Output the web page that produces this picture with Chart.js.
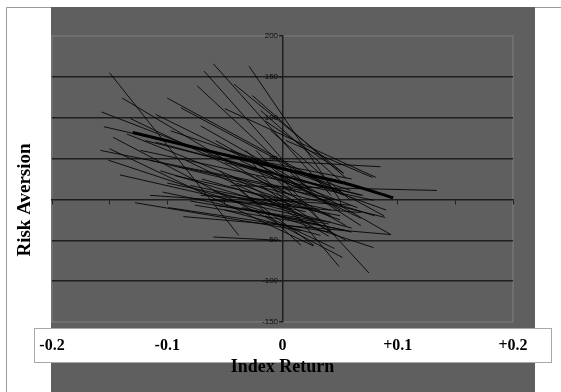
<!DOCTYPE html>
<html>
<head>
<meta charset="utf-8">
<script src="https://cdn.jsdelivr.net/npm/chart.js@4"></script>
<style>
  html, body { margin: 0; padding: 0; background: #fff; }
  #wrap { width: 561px; height: 392px; position: relative; }
</style>
</head>
<body>
<div id="wrap"><canvas id="riskChart"></canvas></div>
<script>
// Each thin line runs from (startX, startY) to (endX, endY)
const startX = [-0.150, -0.139, -0.157, -0.155, -0.135, -0.147, -0.150, -0.151, -0.141, -0.104,
                -0.128, -0.099, -0.086, -0.060, -0.100, -0.068, -0.060, -0.029, -0.042, -0.074,
                -0.088, -0.050, -0.071, -0.017, -0.045, -0.115, -0.123, -0.110, -0.132, -0.119,
                -0.158, -0.093, -0.080, -0.071, -0.063, -0.058, -0.050, -0.037, -0.045, -0.032,
                -0.010, -0.019, -0.026, -0.015, 0.003, -0.045, -0.106, -0.084, -0.097, -0.058,
                -0.037, -0.023, -0.019, -0.054, -0.115, -0.076, -0.006, 0.007, -0.023, -0.028,
                -0.080, -0.060, -0.040, -0.070, -0.030, -0.090, -0.050, -0.020, -0.065, -0.100,
                -0.035, 0.000, -0.110, -0.085, -0.015];
const startY = [155, 124, 107, 89, 80, 76, 62, 48, 30, 9,
                -4, -10, -21, -46, 124, 157, 166, 163, 141, 139,
                112, 111, 90, 48, 17, 48, 60, 104, 99, 72,
                60, 29, 17, 5, -1, -7, -13, 11, 29, 60,
                84, 109, 127, 96, 72, 60, 35, 48, 84, 72,
                48, 29, 17, 35, 5, -7, 35, 29, 60, 48,
                -2, 10, 20, 25, 40, 40, 45, 5, 55, 20,
                -10, 15, 70, 65, -20];
const endX = [-0.038, 0.016, 0.042, 0.055, 0.042, 0.052, 0.027, 0.079, 0.033, 0.055,
              0.016, 0.042, 0.094, -0.002, 0.088, 0.024, 0.042, 0.050, 0.053, 0.033,
              0.053, 0.081, 0.094, 0.085, 0.134, 0.089, 0.079, 0.024, 0.007, 0.068,
              0.016, 0.042, 0.050, 0.059, 0.068, 0.042, 0.033, 0.027, 0.055, 0.042,
              0.059, 0.050, 0.055, 0.053, 0.078, 0.059, 0.007, 0.016, 0.042, 0.050,
              0.068, 0.055, 0.046, 0.016, 0.007, 0.033, 0.068, 0.090, 0.075, 0.049,
              0.040, 0.060, 0.050, 0.030, 0.065, 0.045, 0.070, 0.040, 0.035, 0.020,
              0.060, 0.080, 0.050, 0.060, 0.045];
const endY = [-44, -7, -1, 21, -20, -71, -57, -59, -26, -38,
              -38, -40, -43, -50, -20, 11, 5, -1, 32, -1,
              5, 27, -43, 40, 11, -22, -1, 11, 5, 5,
              11, -13, -20, -7, -16, -28, -44, -56, -50, -38,
              -1, 23, 26, 32, 27, 11, -13, -20, 17, -13,
              -23, -32, -44, -56, -7, -32, -32, -13, -90, -82,
              -30, -35, -25, -15, -10, 0, 5, -45, 15, -15,
              -40, -20, 10, 25, -60];

// Heavy average curve
const meanX = [-0.130, -0.063, 0.007, 0.059, 0.096];
const meanY = [82, 59, 35, 18, 2];

// Axis ticks
const xTickValues = [-0.2, -0.1, 0, 0.1, 0.2];
const xTickLabels = ['-0.2', '-0.1', '0', '+0.1', '+0.2'];
const xMinorTicks = [-0.2, -0.15, -0.1, -0.05, 0, 0.05, 0.1, 0.15, 0.2];

const serif = '"Liberation Serif", "Times New Roman", serif';

// Hintergrund: Rahmen, grauer Kasten, weisser Streifen fuer die x-Beschriftung
const backdrop = {
  id: 'backdrop',
  beforeDraw(chart) {
    const c = chart.ctx;
    const a = chart.chartArea;
    c.save();
    c.fillStyle = '#fff';
    c.fillRect(0, 0, chart.width, chart.height);
    c.strokeStyle = '#9a9a9a';
    c.lineWidth = 1;
    c.beginPath();
    c.moveTo(6.5, chart.height);
    c.lineTo(6.5, 7.5);
    c.lineTo(chart.width, 7.5);
    c.stroke();
    c.fillStyle = '#5f5f5f';
    c.fillRect(51, 7, 484, chart.height - 7);
    c.strokeStyle = '#6f6f6f';
    c.lineWidth = 2;
    c.strokeRect(a.left, a.top, a.right - a.left, a.bottom - a.top);
    c.fillStyle = '#fff';
    c.fillRect(34, 328, 517, 34);
    c.strokeStyle = '#a8a8a8';
    c.lineWidth = 1;
    c.strokeRect(34.5, 328.5, 517, 34);
    c.translate(25, 200);
    c.rotate(-Math.PI / 2);
    c.font = 'bold 19px ' + serif;
    c.fillStyle = '#000';
    c.textAlign = 'center';
    c.textBaseline = 'middle';
    c.fillText('Risk Aversion', 0, 0);
    c.restore();
  }
};

const thinLines = startX.map((x, i) => ({
  data: [{ x: startX[i], y: startY[i] }, { x: endX[i], y: endY[i] }],
  showLine: true,
  borderColor: 'rgba(0, 0, 0, 0.85)',
  borderWidth: 1,
  pointRadius: 0
}));

const meanLine = {
  data: meanX.map((x, i) => ({ x: x, y: meanY[i] })),
  showLine: true,
  borderColor: '#000',
  borderWidth: 3,
  pointRadius: 0,
  tension: 0.3
};

new Chart(document.getElementById('riskChart'), {
  type: 'scatter',
  data: { datasets: thinLines.concat([meanLine]) },
  options: {
    responsive: true,
    maintainAspectRatio: false,
    animation: false,
    layout: { padding: { left: 52, right: 48, top: 36, bottom: 0 } },
    plugins: { legend: { display: false }, tooltip: { enabled: false } },
    scales: {
      x: {
        type: 'linear',
        position: 'bottom',
        min: -0.2,
        max: 0.2,
        afterBuildTicks: s => { s.ticks = xTickValues.map(v => ({ value: v })); },
        afterFit: s => { s.height = 70; },
        grid: { display: false, drawTicks: false },
        border: { display: false },
        ticks: {
          autoSkip: false,
          maxRotation: 0,
          padding: 14,
          color: '#000',
          font: { family: serif, size: 16, weight: 'bold' },
          callback: v => xTickLabels[xTickValues.indexOf(v)]
        },
        title: {
          display: true,
          text: 'Index Return',
          color: '#000',
          font: { family: serif, size: 18, weight: 'bold' },
          padding: { top: 0, bottom: 14 }
        }
      },
      xMid: {
        type: 'linear',
        axis: 'x',
        position: { y: 0 },
        min: -0.2,
        max: 0.2,
        afterBuildTicks: s => { s.ticks = xMinorTicks.map(v => ({ value: v })); },
        ticks: { display: false },
        grid: { drawOnChartArea: false, drawTicks: true, tickLength: 4, color: '#1e1e1e' },
        border: { display: true, color: '#1e1e1e', width: 1.5 }
      },
      y: {
        type: 'linear',
        position: { x: 0 },
        min: -150,
        max: 200,
        ticks: {
          stepSize: 50,
          padding: 1,
          color: '#0a0a0a',
          font: { family: '"Liberation Sans", Arial, sans-serif', size: 8 },
          callback: v => v + '  '
        },
        grid: {
          color: c => (c.tick && [0, 200, -150].includes(c.tick.value)) ? 'rgba(0,0,0,0)' : '#1e1e1e',
          tickColor: '#1e1e1e',
          lineWidth: 1.5,
          tickLength: 3
        },
        border: { display: true, color: '#1e1e1e', width: 1.5 }
      }
    }
  },
  plugins: [backdrop]
});
</script>
</body>
</html>
